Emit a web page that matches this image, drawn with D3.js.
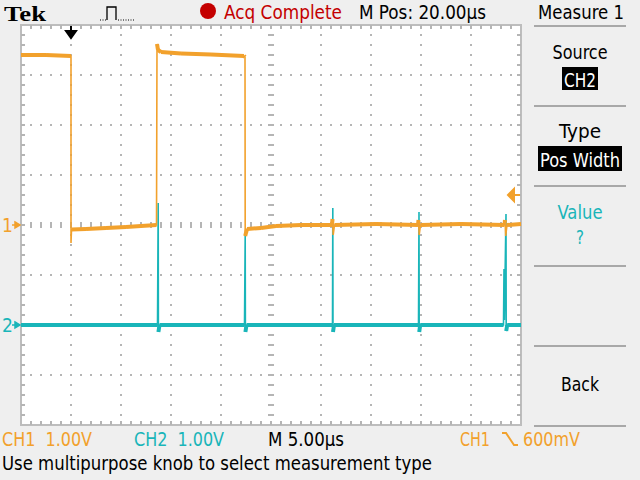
<!DOCTYPE html>
<html><head><meta charset="utf-8">
<script src="https://cdn.jsdelivr.net/npm/d3@7"></script>
<style>html,body{margin:0;padding:0;background:#efefef;} svg{display:block} text{white-space:pre}</style>
</head><body>
<svg id="c" width="640" height="480"></svg>
<script>
// ---- data (time in µs, volts) ----
const ch1Trace = [
  [0, 3.40], [2.5, 3.40], [5.0, 3.38], [5.0, -0.36], [5.05, -0.09], [6.5, -0.08], [8.5, -0.06],
  [10.5, -0.04], [12.0, -0.02], [13.55, 0.00], [13.6, 3.62], [13.7, 3.50], [14.0, 3.46],
  [16.0, 3.43], [19.0, 3.41], [22.3, 3.38], [22.4, 3.36], [22.42, -0.22], [22.6, -0.08],
  [24.0, -0.06], [25.5, -0.02], [28.0, 0.00], [31.1, 0.00], [31.15, 0.12], [31.22, -0.20],
  [31.35, 0.00], [35.5, 0.02], [39.7, 0.00], [39.75, 0.10], [39.82, -0.20], [39.95, 0.00],
  [44.0, 0.02], [48.35, 0.00], [48.4, 0.10], [48.47, -0.22], [48.6, 0.00], [50.0, 0.02]
];
const ch2Trace = [
  [0, 0.00], [13.65, 0.00], [13.72, 2.44], [13.74, -0.14], [13.85, 0.00], [22.35, 0.00],
  [22.42, 1.80], [22.44, -0.14], [22.55, 0.00], [31.15, 0.00], [31.18, 2.34], [31.2, -0.14],
  [31.3, 0.00], [39.75, 0.00], [39.8, 2.26], [39.82, -0.14], [39.92, 0.00], [48.25, 0.00],
  [48.3, 1.12], [48.34, 0.10], [48.5, 2.22], [48.52, -0.12], [48.62, 0.00], [50.0, 0.00]
];
const timeRangeUs = [0, 50];          // 10 div × 5.00 µs
const ch1RangeV = [-4, 4];            // CH1 ground at center, 1.00 V/div
const ch2RangeV = [-2, 6];            // CH2 ground two div below center
const triggerLevelV = 0.6;            // CH1 600 mV
const triggerTimeUs = 5.0;

const brand = "Tek";
const acqStatus = "Acq Complete";
const posLabel = "M Pos: 20.00µs";
const menuTitle = "Measure 1";
const menuLabels = ["Source", "Type", "Value", "Back"];
const menuValues = ["CH2", "Pos Width", "?"];
const chLabels = ["CH1  1.00V", "CH2  1.00V"];
const timebaseLabel = "M 5.00µs";
const trigLabels = ["CH1", "600mV"];
const helpText = "Use multipurpose knob to select measurement type";

// ---- drawing ----
const ORANGE = "#f2a12c", CYAN = "#19b5b9", RED = "#c40000";
const FONT = "'DejaVu Sans Condensed','Liberation Sans Narrow','DejaVu Sans',sans-serif";
const svg = d3.select("#c");
svg.append("rect").attr("width", 640).attr("height", 480).attr("fill", "#efefef");

const L = 21, R = 521, T = 25, B = 425;
const x = d3.scaleLinear().domain(timeRangeUs).range([L, R]);
const y1 = d3.scaleLinear().domain(ch1RangeV).range([B, T]);
const y2 = d3.scaleLinear().domain(ch2RangeV).range([B, T]);

svg.append("rect").attr("x", L).attr("y", T).attr("width", R - L).attr("height", B - T)
  .attr("fill", "#ffffff").attr("stroke", "#bdbdbd").attr("stroke-width", 2);

const grid = svg.append("g").attr("fill", "#b5b5b5");
const minorT = d3.range(timeRangeUs[0], timeRangeUs[1] + 0.001, 1);
const minorV = d3.range(ch1RangeV[0], ch1RangeV[1] + 0.001, 0.2);
const majorT = d3.range(timeRangeUs[0] + 5, timeRangeUs[1], 5);
const majorV = d3.range(ch1RangeV[0] + 1, ch1RangeV[1], 1);
majorT.forEach(t => {
  if (t === 25) return;
  minorV.slice(1, -1).forEach(v => grid.append("rect").attr("x", x(t) - 1).attr("y", y1(v) - 1).attr("width", 2).attr("height", 2));
});
majorV.forEach(v => {
  if (v === 0) return;
  minorT.slice(1, -1).forEach(t => grid.append("rect").attr("x", x(t) - 1).attr("y", y1(v) - 1).attr("width", 2).attr("height", 2));
});
minorT.slice(1, -1).forEach(t => grid.append("rect").attr("x", x(t) - 1).attr("y", y1(0) - 3).attr("width", 2).attr("height", 6));
minorV.slice(1, -1).forEach(v => grid.append("rect").attr("x", x(25) - 3).attr("y", y1(v) - 1).attr("width", 6).attr("height", 2));
minorT.slice(1, -1).forEach(t => {
  grid.append("rect").attr("x", x(t) - 1).attr("y", T).attr("width", 2).attr("height", 4);
  grid.append("rect").attr("x", x(t) - 1).attr("y", B - 4).attr("width", 2).attr("height", 4);
});
minorV.slice(1, -1).forEach(v => {
  grid.append("rect").attr("x", L).attr("y", y1(v) - 1).attr("width", 4).attr("height", 2);
  grid.append("rect").attr("x", R - 4).attr("y", y1(v) - 1).attr("width", 4).attr("height", 2);
});

function drawTrace(data, ys, color) {
  const line = d3.line().x(d => x(d[0])).y(d => ys(d[1]));
  const g = svg.append("g").attr("fill", "none").attr("stroke", color);
  g.append("path").attr("d", line(data)).attr("stroke-width", 1.6);
  const flat = d3.pairs(data).filter(([a, b]) => Math.abs(ys(a[1]) - ys(b[1])) < 8);
  g.selectAll(null).data(flat).join("path").attr("d", s => line(s)).attr("stroke-width", 4);
}
drawTrace(ch2Trace, y2, CYAN);
drawTrace(ch1Trace, y1, ORANGE);

// markers
const m1 = y1(0), m2 = y2(0);
svg.append("text").text("1").attr("x", 2).attr("y", m1 + 7).attr("fill", ORANGE).attr("font-family", FONT).attr("font-size", 19);
svg.append("path").attr("d", `M12,${m1}H19M15,${m1 - 3}L20,${m1}L15,${m1 + 3}Z`).attr("stroke", ORANGE).attr("fill", ORANGE).attr("stroke-width", 1.5);
svg.append("text").text("2").attr("x", 2).attr("y", m2 + 7).attr("fill", CYAN).attr("font-family", FONT).attr("font-size", 19);
svg.append("path").attr("d", `M12,${m2}H19M15,${m2 - 3}L20,${m2}L15,${m2 + 3}Z`).attr("stroke", CYAN).attr("fill", CYAN).attr("stroke-width", 1.5);
const tl = y1(triggerLevelV);
svg.append("path").attr("d", `M508,${tl}L514,${tl - 6}L514,${tl + 6}Z M513,${tl}H520`).attr("fill", ORANGE).attr("stroke", ORANGE).attr("stroke-width", 2);
const tx = x(triggerTimeUs);
svg.append("path").attr("d", `M${tx},26V37 M${tx - 5},31H${tx + 5}L${tx},38Z`).attr("fill", "#000").attr("stroke", "#000").attr("stroke-width", 2);

// header
function txt(s, xx, yy, len, color, size, anchor) {
  return svg.append("text").text(s).attr("x", xx).attr("y", yy).attr("fill", color || "#000")
    .attr("font-family", FONT).attr("font-size", size || 20)
    .attr("text-anchor", anchor || "start")
    .attr("textLength", len).attr("lengthAdjust", "spacingAndGlyphs");
}
svg.append("text").text(brand).attr("x", 4).attr("y", 21).attr("font-family", "'Liberation Serif','DejaVu Serif',serif")
  .attr("font-weight", "bold").attr("font-size", 22).attr("textLength", 42).attr("lengthAdjust", "spacingAndGlyphs");
svg.append("path").attr("d", "M100,20H106").attr("stroke", "#000").attr("stroke-dasharray", "1,1.5");
svg.append("path").attr("d", "M107,20V7H116V20").attr("stroke", "#000").attr("fill", "none").attr("stroke-width", 1.3);
svg.append("path").attr("d", "M118,20H135").attr("stroke", "#000").attr("stroke-dasharray", "1,1.5");
svg.append("circle").attr("cx", 208).attr("cy", 11).attr("r", 8).attr("fill", RED);
txt(acqStatus, 224, 19, 118, RED);
txt(posLabel, 359, 19, 127);
txt(menuTitle, 538, 19, 86);

// right menu
[26, 106, 186, 266, 346, 426].forEach(yy =>
  svg.append("rect").attr("x", 534).attr("y", yy - 1).attr("width", 92).attr("height", 2).attr("fill", "#a8a8a8"));
txt(menuLabels[0], 580, 59, 55, "#000", 20, "middle");
svg.append("rect").attr("x", 562).attr("y", 67).attr("width", 36).attr("height", 23).attr("fill", "#000");
txt(menuValues[0], 580, 87, 32, "#fff", 20, "middle");
txt(menuLabels[1], 580, 138, 42, "#000", 20, "middle");
svg.append("rect").attr("x", 538).attr("y", 146).attr("width", 84).attr("height", 25).attr("fill", "#000");
txt(menuValues[1], 580, 167, 80, "#fff", 20, "middle");
txt(menuLabels[2], 580, 219, 45, CYAN, 20, "middle");
txt(menuValues[2], 580, 244, 8, CYAN, 20, "middle");
txt(menuLabels[3], 580, 391, 38, "#000", 20, "middle");

// footer
txt(chLabels[0], 2, 446, 90, ORANGE);
txt(chLabels[1], 134, 446, 90, CYAN);
txt(timebaseLabel, 268, 446, 76);
txt(trigLabels[0], 460, 446, 30, ORANGE);
svg.append("path").attr("d", "M502,433H506L514,445H518").attr("stroke", ORANGE).attr("fill", "none").attr("stroke-width", 2);
txt(trigLabels[1], 523, 446, 57, ORANGE);
txt(helpText, 2, 470, 430);
</script>
</body></html>
